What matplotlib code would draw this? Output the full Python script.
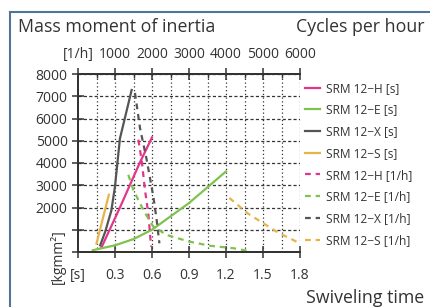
import matplotlib
matplotlib.use("Agg")
import matplotlib.pyplot as plt
from matplotlib.lines import Line2D

plt.rcParams['font.family'] = ['Open Sans', 'DejaVu Sans']

# ---- data ----
h_s_x = [0.19, 0.34, 0.50, 0.60]
h_s_y = [200, 2000, 4000, 5150]
e_s_x = [0.12, 0.30, 0.45, 0.60, 0.90, 1.20]
e_s_y = [80, 300, 580, 1000, 2200, 3620]
x_s_x = [0.18, 0.22, 0.27, 0.30, 0.34, 0.435]
x_s_y = [300, 900, 1850, 2950, 5100, 7280]
s_s_x = [0.15, 0.25]
s_s_y = [380, 2570]

h_h_x = [1630, 1720, 1810, 1900, 1975]
h_h_y = [5050, 4140, 2790, 1740, 240]
e_h_x = [1360, 1495, 1765, 2036, 2400, 3000, 3570, 4200, 4560]
e_h_y = [3470, 2790, 1890, 1140, 765, 470, 280, 170, 60]
x_h_x = [1540, 1676, 1857, 2036, 2126, 2200]
x_h_y = [7150, 5570, 4140, 2490, 1440, 390]
s_h_x = [4090, 4600, 5400, 5960]
s_h_y = [2430, 1720, 880, 420]

bottom_ticks = [0, 0.3, 0.6, 0.9, 1.2, 1.5, 1.8]
bottom_labels = ['[s]', '0.3', '0.6', '0.9', '1.2', '1.5', '1.8']
top_ticks = [0, 1000, 2000, 3000, 4000, 5000, 6000]
top_labels = ['[1/h]', '1000', '2000', '3000', '4000', '5000', '6000']
y_ticks = [0, 1000, 2000, 3000, 4000, 5000, 6000, 7000, 8000]
y_labels = ['', '', '2000', '3000', '4000', '5000', '6000', '7000', '8000']

c_h = '#e2368b'
c_e = '#7fc24e'
c_x = '#555555'
c_s = '#e6b54a'

fig = plt.figure(figsize=(4.30, 3.07), dpi=100)
ax = fig.add_axes([78/430, 1-252/307, 222/430, 178/307])
ax.set_xlim(0, 1.8)
ax.set_ylim(0, 8000)
axt = ax.twiny()
axt.set_xlim(0, 6000)

lw = 1.6
dash = (0, (2.6, 2.2))
ax.plot(h_s_x, h_s_y, color=c_h, lw=lw, label='SRM 12−H [s]')
ax.plot(e_s_x, e_s_y, color=c_e, lw=lw, label='SRM 12−E [s]')
ax.plot(x_s_x, x_s_y, color=c_x, lw=lw, label='SRM 12−X [s]')
ax.plot(s_s_x, s_s_y, color=c_s, lw=lw, label='SRM 12−S [s]')
axt.plot(h_h_x, h_h_y, color=c_h, lw=lw, ls=dash, label='SRM 12−H [1/h]')
axt.plot(e_h_x, e_h_y, color=c_e, lw=lw, ls=dash, label='SRM 12−E [1/h]')
axt.plot(x_h_x, x_h_y, color=c_x, lw=lw, ls=dash, label='SRM 12−X [1/h]')
axt.plot(s_h_x, s_h_y, color=c_s, lw=lw, ls=dash, label='SRM 12−S [1/h]')

# grid
for v in [0.15 * i for i in range(1, 13)]:
    ax.axvline(v, color='#333333', lw=0.9, ls=(0, (1, 2)), zorder=0)
for h in y_ticks[1:]:
    ax.axhline(h, color='#333333', lw=0.9, ls=(0, (2.5, 1.8)), zorder=0)

fs = 10
ax.set_xticks(bottom_ticks)
ax.set_xticklabels(bottom_labels, fontsize=fs, color='#333333')
ax.set_yticks(y_ticks)
ax.set_yticklabels(y_labels, fontsize=fs, color='#333333')
axt.set_xticks(top_ticks)
axt.set_xticklabels(top_labels, fontsize=fs, color='#333333')
ax.tick_params(axis='y', direction='inout', length=9, width=1.1, color='#333333', pad=3)
ax.tick_params(axis='x', direction='inout', length=9, width=1.1, color='#333333', pad=7)
axt.tick_params(axis='x', direction='inout', length=9, width=1.1, color='#333333', pad=4)
axt.set_xticks([500 + 1000 * i for i in range(6)], minor=True)
axt.tick_params(axis='x', which='minor', direction='in', length=3, width=1.0, color='#333333')

for a in (ax, axt):
    a.spines['right'].set_visible(False)
    for s in ('left', 'bottom', 'top'):
        a.spines[s].set_color('#333333')
        a.spines[s].set_linewidth(1.4)

h1, l1 = ax.get_legend_handles_labels()
h2, l2 = axt.get_legend_handles_labels()
fig.legend(h1 + h2, l1 + l2, loc='upper left', bbox_to_anchor=(300/430, 1-77/307),
           frameon=False, fontsize=8.6, handlelength=1.3, handletextpad=0.5,
           labelspacing=0.73, labelcolor='#333333', borderaxespad=0)

fig.text(18/430, 1-27/307, 'Mass moment of inertia', fontsize=12.8, color='#333333',
         ha='left', va='center')
fig.text(424/430, 1-27/307, 'Cycles per hour', fontsize=12.8, color='#333333',
         ha='right', va='center')
fig.text(424/430, 1-298/307, 'Swiveling time', fontsize=12.8, color='#333333',
         ha='right', va='center')
fig.text(58/430, 1-257/307, '[kgmm²]', fontsize=fs, color='#333333',
         rotation=90, ha='center', va='center')

frame_c = '#4f7599'
fig.add_artist(Line2D([10/430, 10/430], [0, 1-12/307], transform=fig.transFigure,
                      color=frame_c, lw=1.5))
fig.add_artist(Line2D([10/430, 1], [1-12/307, 1-12/307], transform=fig.transFigure,
                      color=frame_c, lw=1.5))

fig.savefig('out.png', dpi=100)
